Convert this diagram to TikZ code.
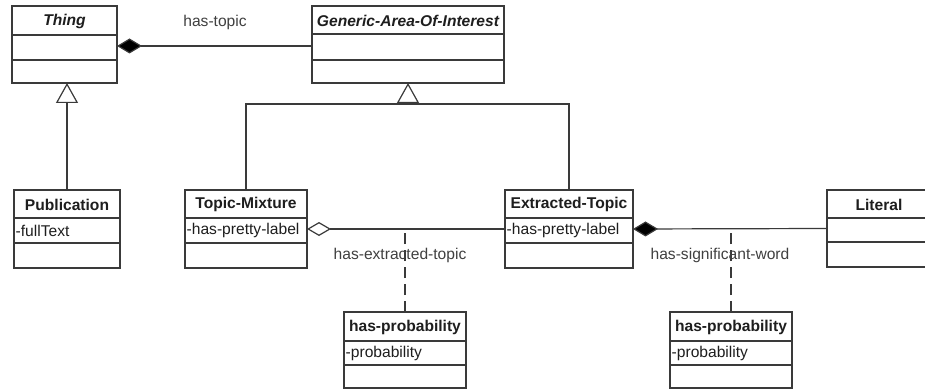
\documentclass[tikz,border=0pt]{standalone}
\usepackage{fontspec}
\setmainfont{Liberation Sans}
\usetikzlibrary{arrows.meta}

\definecolor{umlline}{HTML}{3A3A3A}
\definecolor{umltext}{HTML}{1E1E1E}

\tikzset{
  boxframe/.style={draw=umlline, line width=1.2pt, fill=white, inner sep=0pt, outer sep=0pt, anchor=north west},
  divider/.style={draw=umlline, line width=1.2pt},
  titletext/.style={font=\fontsize{15.6}{18}\selectfont\bfseries, text=umltext, inner sep=0pt},
  attrtext/.style={font=\fontsize{15.6}{18}\selectfont, text=umltext, inner sep=0pt, anchor=west},
  conn/.style={draw=umlline, line width=1.2pt},
  assocdash/.style={conn, dash pattern=on 11pt off 6pt},
  rolelabel/.style={font=\fontsize{15.6}{18}\selectfont, text=umltext!85, inner sep=0pt},
  compo/.style={{Diamond[length=25pt, width=15pt, fill=black]}-},
  aggreg/.style={{Diamond[open, length=24pt, width=14pt, fill=white]}-},
  genl/.style={-{Triangle[open, length=20pt, width=22pt, fill=white]}}
}

% class box: name, left, right, top, first divider, second divider, bottom, title, attribute
\newcommand\umlclass[9]{%
  \node[boxframe, minimum width={(#3-#2)*1pt}, minimum height={(#7-#4)*1pt}] (#1) at (#2,#4) {};
  \draw[divider] (#2,#5) -- (#3,#5);
  \draw[divider] (#2,#6) -- (#3,#6);
  \node[titletext] (#1-title) at ({(#2+#3)/2},{(#4+#5)/2+0.5}) {#8};
  \node[attrtext] (#1-attr) at (#2+1.5,{(#5+#6)/2}) {#9};
}

\begin{document}
\begin{tikzpicture}[x=1pt, y=-1pt]
  \useasboundingbox (0,0) rectangle (925,390);
  \clip (0,0) rectangle (925,390);
  \fill[white] (0,0) rectangle (925,390);

  % junction of the generalisation bar
  \coordinate (gbar) at (408,104);

  % class boxes
  \umlclass{thing}{12}{117}{6}{35}{60}{83}{\itshape Thing}{}
  \umlclass{generic}{312}{504}{6}{34}{60}{83}{\itshape Generic-Area-Of-Interest}{}
  \umlclass{pub}{14}{120}{190}{218}{243}{268}{Publication}{-fullText}
  \umlclass{tm}{185}{307}{190}{218}{243}{268}{Topic-Mixture}{-has-pretty-label}
  \umlclass{et}{505}{633}{190}{218}{243}{268}{Extracted-Topic}{-has-pretty-label}
  \umlclass{lit}{827}{931}{190}{218}{242}{267}{Literal}{}
  \umlclass{hpa}{344}{466}{312}{341}{365}{388}{has-probability}{-probability}
  \umlclass{hpb}{670}{792}{312}{341}{365}{388}{has-probability}{-probability}

  % composition Thing -- Generic-Area-Of-Interest
  \draw[conn, compo] ([yshift=-1.5pt]thing.east) -- ([yshift=-1.5pt]generic.west);
  \node[rolelabel] (lbltopic) at (215,22) {has-topic};

  % generalisations
  \draw[conn, genl] (pub.north) -- (pub.north |- thing.south);
  \draw[conn] (tm.north) |- (gbar) -| (et.north);
  \draw[conn, genl] (gbar) -- (generic.south);

  % aggregation Topic-Mixture -- Extracted-Topic with association class
  \draw[conn, aggreg] (tm.east) -- (et.west);
  \draw[assocdash] (hpa.north) -- (hpa.north |- tm.east);
  \node[rolelabel] (lblextr) at (400,255) {has-extracted-topic};

  % composition Extracted-Topic -- Literal with association class
  \draw[conn, compo] (et.east) -- (lit.west);
  \draw[assocdash] (hpb.north) -- (hpb.north |- et.east);
  \node[rolelabel] (lblsig) at (720,255) {has-significant-word};
\end{tikzpicture}
\end{document}
